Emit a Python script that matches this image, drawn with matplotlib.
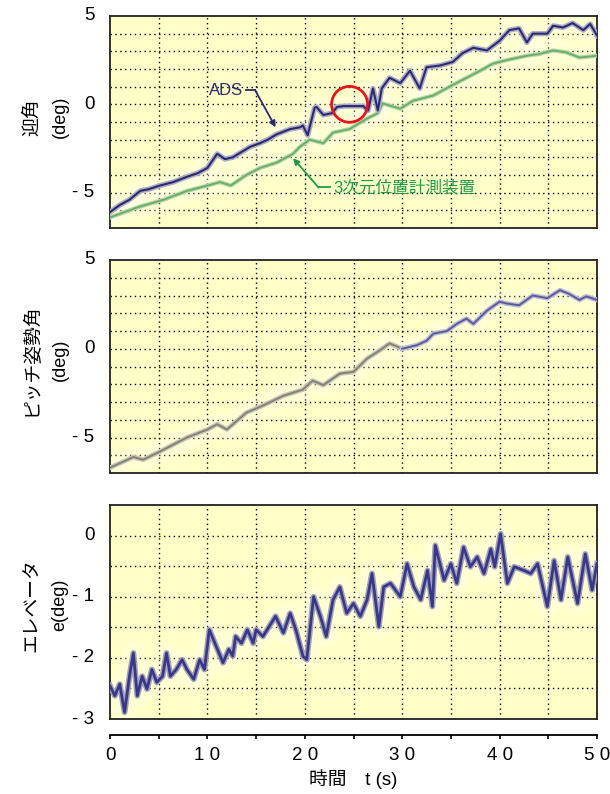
import matplotlib
matplotlib.use("Agg")
import matplotlib.pyplot as plt
from matplotlib.patches import Ellipse
import numpy as np

plt.rcParams['font.family'] = ['Liberation Sans', 'Noto Sans CJK JP', 'DejaVu Sans']

# ---- angle of attack: ADS ----
ads_t = [0, 1.0, 2.0, 3.1, 4.0, 5.1, 6.5, 7.9, 9.0, 10.0, 11.0, 11.8, 12.6, 13.5, 14.4,
         15.4, 16.2, 17.1, 18.5, 19.5, 19.8, 20.3, 21.0, 21.2, 21.9, 22.8, 23.3, 24.0,
         25.0, 26.0, 26.5, 27.0, 27.5, 27.9, 28.7, 29.8, 30.8, 31.8, 32.5, 33.9, 35.2,
         36.2, 37.3, 38.7, 40.0, 41.0, 42.0, 42.8, 43.4, 44.9, 45.5, 46.5, 47.5, 48.6,
         49.3, 50.0]
ads_v = [-6.1, -5.7, -5.4, -4.9, -4.8, -4.6, -4.4, -4.1, -3.9, -3.6, -2.8, -3.1, -3.0,
         -2.7, -2.4, -2.2, -2.0, -1.7, -1.4, -1.3, -1.2, -1.75, -0.2, -0.15, -0.6, -0.5,
         -0.15, -0.1, -0.1, -0.1, -0.35, 0.9, -0.35, 0.9, 1.5, 1.2, 1.9, 0.9, 2.1, 2.2,
         2.4, 2.9, 3.2, 3.05, 3.6, 4.2, 4.3, 3.5, 4.0, 4.0, 4.45, 4.35, 4.6, 4.2, 4.55, 3.9]

# ---- angle of attack: 3D position measurement ----
pos_t = [0, 3.0, 5.5, 7.9, 10.0, 11.3, 12.4, 14.0, 15.4, 17.1, 18.8, 19.5, 20.5, 21.9,
         22.9, 24.6, 26.4, 27.5, 28.0, 29.8, 31.1, 33.2, 35.2, 36.6, 38.0, 39.3, 40.7,
         42.8, 44.1, 45.5, 46.8, 48.2, 50.0]
pos_v = [-6.4, -5.8, -5.4, -4.9, -4.6, -4.4, -4.6, -4.0, -3.6, -3.3, -2.8, -2.4, -2.0,
         -2.2, -1.6, -1.4, -0.8, -0.5, 0.05, -0.25, 0.2, 0.5, 1.1, 1.5, 1.9, 2.3, 2.5,
         2.75, 2.85, 3.05, 2.95, 2.65, 2.75]

# ---- pitch attitude ----
pitch_t = [0, 2.4, 3.4, 5.1, 7.9, 10.0, 11.0, 12.0, 14.0, 15.7, 17.8, 19.8, 20.8, 21.9,
           23.6, 25.0, 26.4, 27.4, 28.7, 30.0, 31.5, 32.5, 33.2, 34.6, 35.6, 36.6, 37.3,
           38.7, 40.0, 40.7, 42.0, 43.4, 44.9, 46.2, 47.1, 48.2, 48.9, 50.0]
pitch_v = [-6.7, -6.1, -6.25, -5.8, -5.0, -4.55, -4.25, -4.55, -3.6, -3.2, -2.65, -2.3,
           -1.8, -2.05, -1.4, -1.3, -0.55, -0.2, 0.3, 0.0, 0.2, 0.45, 0.85, 1.0, 1.4, 1.7,
           1.4, 2.15, 2.65, 2.55, 2.45, 3.0, 2.85, 3.3, 3.1, 2.75, 2.95, 2.75]

# ---- elevator ----
elev_t = [0, 0.5, 1.0, 1.5, 2.0, 2.4, 2.8, 3.3, 3.8, 4.3, 4.8, 5.4, 5.8, 6.2, 6.8, 7.4,
          7.9, 8.6, 9.2, 9.7, 10.2, 10.9, 11.6, 12.2, 12.6, 12.9, 13.5, 14.1, 14.7, 15.0,
          15.7, 17.0, 17.8, 18.5, 19.1, 19.8, 20.2, 20.9, 21.6, 22.2, 22.9, 23.6, 24.3,
          25.0, 25.7, 26.4, 26.9, 27.6, 28.1, 28.8, 29.8, 30.5, 31.2, 31.9, 32.6, 33.1,
          33.4, 34.3, 35.0, 35.6, 36.3, 37.0, 37.7, 38.4, 39.1, 39.5, 40.1, 40.8, 41.5,
          42.5, 43.2, 43.9, 44.9, 45.6, 46.3, 47.0, 48.0, 48.8, 49.5, 50.0]
elev_v = [-2.46, -2.62, -2.43, -2.89, -2.3, -1.92, -2.62, -2.3, -2.51, -2.19, -2.4, -2.3,
          -1.92, -2.3, -2.19, -2.03, -2.19, -2.35, -2.03, -2.19, -1.54, -1.81, -2.08, -1.86,
          -1.97, -1.65, -1.76, -1.54, -1.76, -1.54, -1.65, -1.32, -1.59, -1.27, -1.55,
          -1.97, -2.03, -1.0, -1.32, -1.65, -1.05, -0.84, -1.27, -1.11, -1.32, -1.05, -0.62,
          -1.49, -0.84, -0.78, -1.0, -0.46, -0.84, -1.05, -0.57, -1.16, -0.16, -0.73, -0.46,
          -0.78, -0.19, -0.51, -0.35, -0.62, -0.22, -0.51, 0.03, -0.78, -0.51, -0.57,
          -0.62, -0.46, -1.16, -0.41, -1.05, -0.35, -1.11, -0.3, -0.89, -0.46]

x_major = [0, 10, 20, 30, 40, 50]
x_labels = ['0', '1 0', '2 0', '3 0', '4 0', '5 0']
aoa_ticks = [-5, 0, 5]
aoa_labels = ['- 5', '0', '5']
elev_ticks = [-3, -2, -1, 0]
elev_labels = ['- 3', '- 2', '- 1', '0']

BG = '#ffffc8'
NAVY = '#2b2a70'
GREEN = '#6aad66'
ANN_GREEN = '#1f9a4a'

fig = plt.figure(figsize=(6.10, 7.94), dpi=100)
L, W = 110 / 610, 487 / 610


def frac(top, bottom):
    return [L, 1 - bottom / 794, W, (bottom - top) / 794]


def style(ax, ylim, grid_step, yticks, ylabels):
    ax.set_facecolor(BG)
    ax.set_xlim(0, 50)
    ax.set_ylim(*ylim)
    ax.set_xticks(np.arange(5, 50, 5))
    ax.set_yticks(np.arange(ylim[0] + grid_step, ylim[1], grid_step))
    ax.grid(True, color='black', linestyle=(0, (1, 2.5)), linewidth=1.0)
    ax.tick_params(length=0, labelbottom=False, labelleft=False)
    for s in ax.spines.values():
        s.set_color('#222222')
        s.set_linewidth(1.3)
    for v, lab in zip(yticks, ylabels):
        ax.text(-1.6, v, lab, ha='right', va='center', fontsize=13.5, clip_on=False)


def haze(ax, t, v):
    ax.plot(t, v, color='white', lw=16, alpha=0.22, solid_capstyle='round',
            solid_joinstyle='round', zorder=2)


# ---- top panel ----
ax1 = fig.add_axes(frac(16, 228))
style(ax1, (-7, 5), 1, aoa_ticks, aoa_labels)
haze(ax1, ads_t, ads_v)
haze(ax1, pos_t, pos_v)
ax1.plot(pos_t, pos_v, color='#b4d6aa', lw=3.0, zorder=3)
ax1.plot(pos_t, pos_v, color=GREEN, lw=1.3, zorder=3)
ax1.plot(ads_t, ads_v, color='#aeadc6', lw=3.8, zorder=4)
ax1.plot(ads_t, ads_v, color=NAVY, lw=1.5, zorder=4)
ax1.add_patch(Ellipse((24.6, 0.0), 3.7, 2.03, fill=False, edgecolor='#e8141c',
                      lw=2.0, zorder=5))
ax1.text(13.7, 0.8, 'ADS', color=NAVY, fontsize=12, ha='right', va='center', zorder=6)
ax1.plot([14.0, 14.9], [0.8, 0.8], color=NAVY, lw=1.3, zorder=6)
ax1.annotate('', xy=(17.0, -1.3), xytext=(14.9, 0.8),
             arrowprops=dict(arrowstyle='-|>', color=NAVY, lw=1.3,
                             mutation_scale=9, shrinkA=0, shrinkB=0), zorder=6)
ax1.text(22.9, -4.7, '3次元位置計測装置', color=ANN_GREEN, fontsize=12,
         ha='left', va='center', zorder=6)
ax1.plot([21.4, 22.6], [-4.7, -4.7], color=ANN_GREEN, lw=1.3, zorder=6)
ax1.annotate('', xy=(18.8, -3.05), xytext=(21.4, -4.7),
             arrowprops=dict(arrowstyle='-|>', color=ANN_GREEN, lw=1.3,
                             mutation_scale=9, shrinkA=0, shrinkB=0), zorder=6)

# ---- middle panel ----
ax2 = fig.add_axes(frac(260, 473))
style(ax2, (-7, 5), 1, aoa_ticks, aoa_labels)
haze(ax2, pitch_t, pitch_v)
k = pitch_t.index(30.0)
ax2.plot(pitch_t[:k + 1], pitch_v[:k + 1], color='#c8c6b8', lw=3.4, zorder=3)
ax2.plot(pitch_t[:k + 1], pitch_v[:k + 1], color='#838276', lw=1.4, zorder=3)
ax2.plot(pitch_t[k:], pitch_v[k:], color='#bcbcd8', lw=3.4, zorder=3)
ax2.plot(pitch_t[k:], pitch_v[k:], color='#5c5c98', lw=1.4, zorder=3)

# ---- bottom panel ----
ax3 = fig.add_axes(frac(505, 719))
style(ax3, (-3, 0.5), 0.5, elev_ticks, elev_labels)
haze(ax3, elev_t, elev_v)
ax3.plot(elev_t, elev_v, color='#a3a2bc', lw=4.2, zorder=3)
ax3.plot(elev_t, elev_v, color='#3a3886', lw=2.0, zorder=3)

# ---- shared time axis drawn below the panels ----
axx = fig.add_axes([L, 1 - 735 / 794, W, 0.0001])
axx.set_xlim(0, 50)
axx.set_yticks([])
for side in ('left', 'right', 'top'):
    axx.spines[side].set_visible(False)
axx.spines['bottom'].set_linewidth(1.3)
axx.set_xticks(x_major)
axx.set_xticklabels(x_labels, fontsize=13.5)
axx.set_xticks(np.arange(5, 50, 10), minor=True)
axx.tick_params(axis='x', which='both', direction='out', length=3, width=1.2, pad=6)
axx.set_facecolor('none')
fig.text(L + W / 2, 1 - 779 / 794, '時間　t (s)', ha='center', va='center', fontsize=13.5)

# ---- y-axis titles ----
fig.text(32 / 610, 1 - 117 / 794, '迎角', rotation=90, ha='center', va='center', fontsize=13.5)
fig.text(60 / 610, 1 - 117 / 794, '(deg)', rotation=90, ha='center', va='center', fontsize=13)
fig.text(32 / 610, 1 - 360 / 794, 'ピッチ姿勢角', rotation=90, ha='center', va='center', fontsize=13.5)
fig.text(60 / 610, 1 - 360 / 794, '(deg)', rotation=90, ha='center', va='center', fontsize=13)
fig.text(32 / 610, 1 - 605 / 794, 'エレベータ', rotation=90, ha='center', va='center', fontsize=13.5)
fig.text(60 / 610, 1 - 605 / 794, 'e(deg)', rotation=90, ha='center', va='center', fontsize=13)

fig.savefig('out.png', dpi=100)
